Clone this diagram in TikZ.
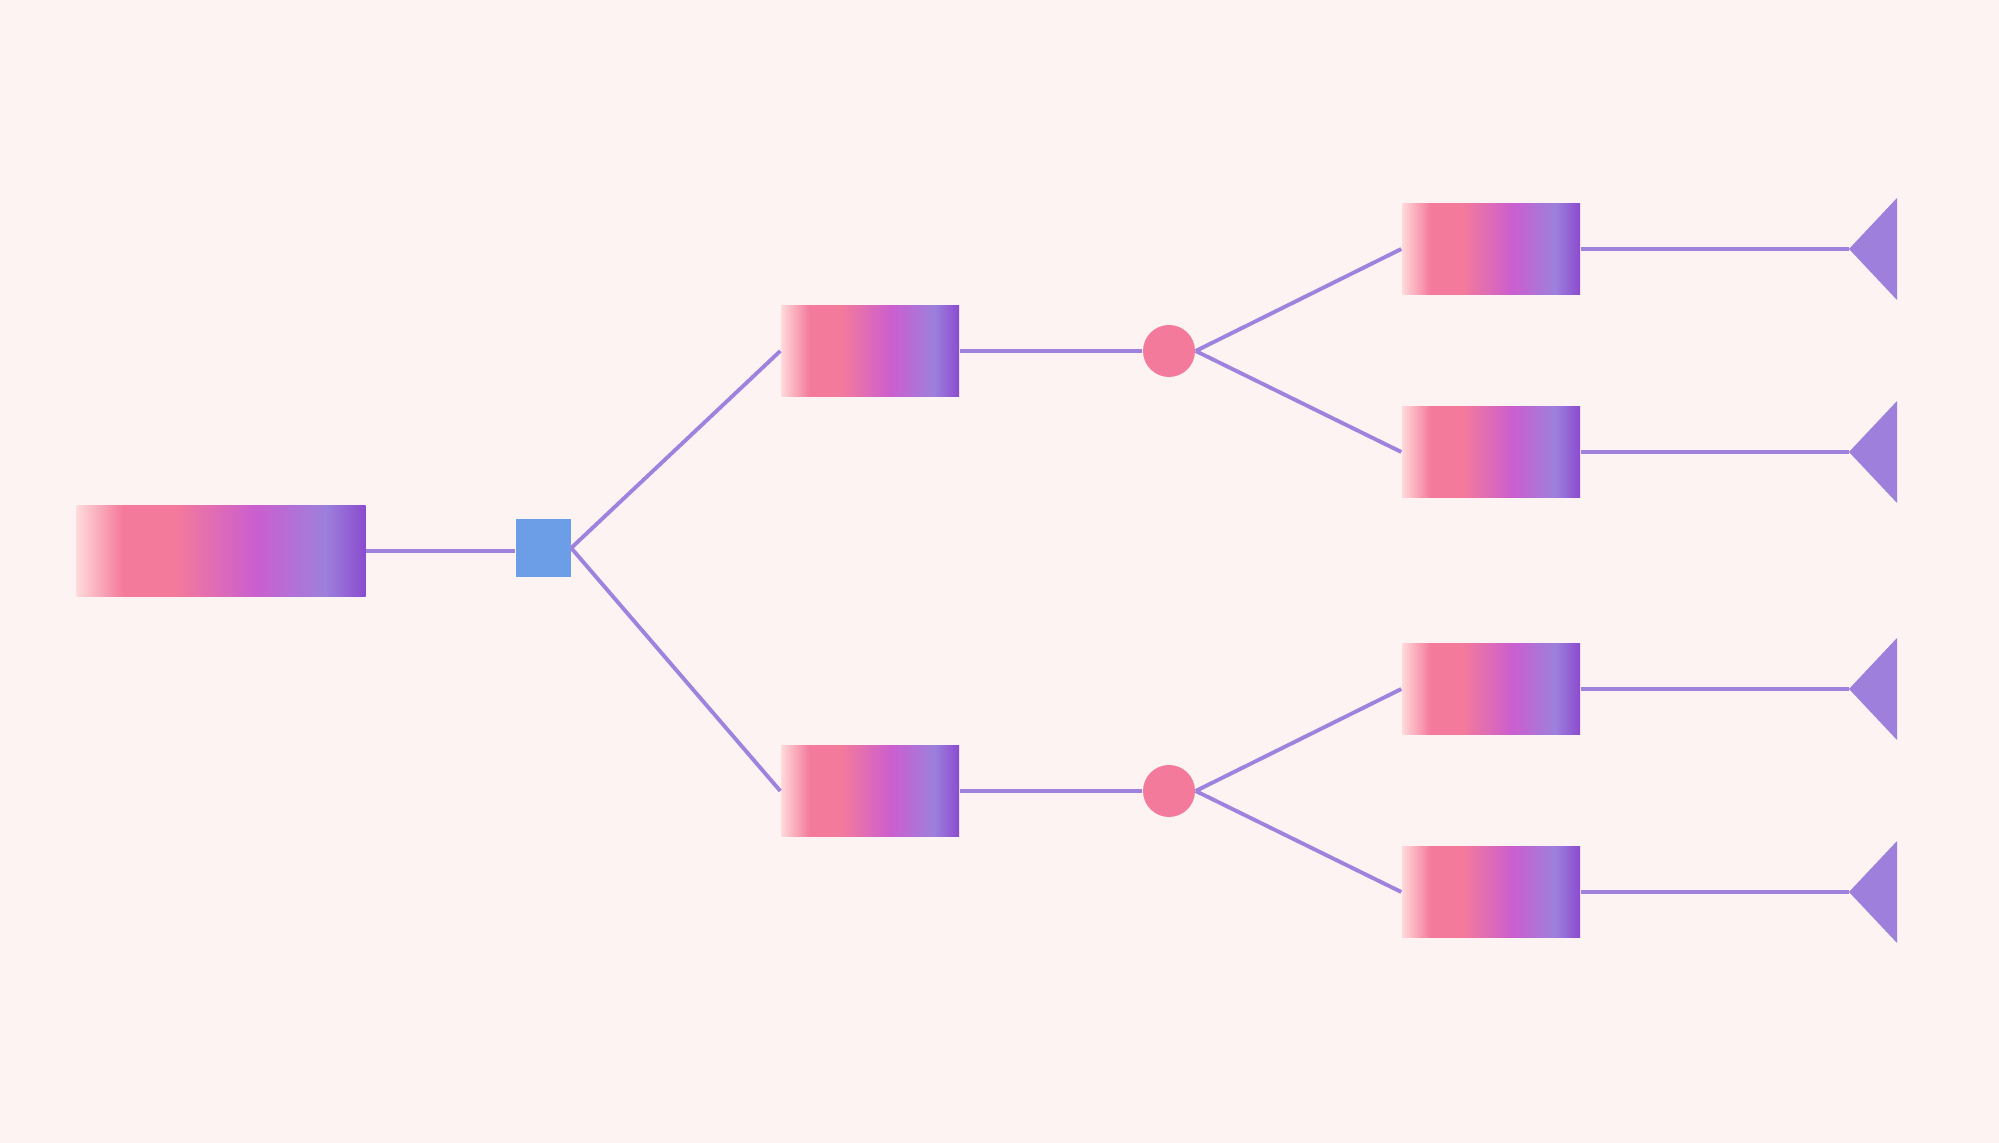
\documentclass[tikz,border=0pt]{standalone}
\usepackage{tikz}
\usetikzlibrary{positioning}

\definecolor{paper}{HTML}{FDF3F2}
\definecolor{wirecol}{HTML}{9F82DE}
\definecolor{fadeA}{HTML}{FFDADA}
\definecolor{rosy}{HTML}{F47A9B}
\definecolor{orchid}{HTML}{CB5ECF}
\definecolor{lilac}{HTML}{9D80DC}
\definecolor{grape}{HTML}{8B4BCF}
\definecolor{hubblue}{HTML}{6C9EE8}
\definecolor{tipcol}{HTML}{9E80DC}

\pgfdeclarehorizontalshading{barfade}{100bp}{color(0bp)=(fadeA); color(25bp)=(fadeA); color(33bp)=(rosy); color(42bp)=(rosy); color(56bp)=(orchid); color(68bp)=(lilac); color(75bp)=(grape); color(100bp)=(grape)}

\tikzset{
  bar/.style={rectangle, shading=barfade, minimum width=1.78cm, minimum height=0.91cm, inner sep=0pt},
  hub/.style={rectangle, fill=hubblue, minimum width=0.55cm, minimum height=0.58cm, inner sep=0pt},
  dot/.style={circle, fill=rosy, minimum size=0.52cm, inner sep=0pt},
  link/.style={draw=wirecol, line width=1.1pt},
  tipfill/.style={fill=tipcol}
}

\begin{document}
\begin{tikzpicture}[node distance=3.22cm]
        \useasboundingbox (0,0) rectangle (19.99,11.43);
        \fill[paper] (0,0) rectangle (19.99,11.43);

        \node[bar, minimum width=2.89cm] (root) at (2.21,5.92) {};
        \node[hub, right of=root, yshift=0.03cm] (split) {};
        \node[bar, right of=split, xshift=0.05cm, yshift=1.97cm] (upper) {};
        \node[bar, right of=split, xshift=0.05cm, yshift=-2.43cm] (lower) {};
        \node[dot, right of=upper, xshift=-0.23cm] (joinA) {};
        \node[dot, right of=lower, xshift=-0.23cm] (joinB) {};
        \node[bar, right of=joinA, yshift=1.02cm] (leafA) {};
        \node[bar, right of=joinA, yshift=-1.01cm] (leafB) {};
        \node[bar, right of=joinB, yshift=1.02cm] (leafC) {};
        \node[bar, right of=joinB, yshift=-1.01cm] (leafD) {};

        % end markers
        \coordinate[right of=leafA, xshift=0.36cm] (tipA);
        \coordinate[right of=leafB, xshift=0.36cm] (tipB);
        \coordinate[right of=leafC, xshift=0.36cm] (tipC);
        \coordinate[right of=leafD, xshift=0.36cm] (tipD);
        \fill[tipfill] (tipA) -- ++(0.48,0.51) -- ++(0,-1.02) -- cycle;
        \fill[tipfill] (tipB) -- ++(0.48,0.51) -- ++(0,-1.02) -- cycle;
        \fill[tipfill] (tipC) -- ++(0.48,0.51) -- ++(0,-1.02) -- cycle;
        \fill[tipfill] (tipD) -- ++(0.48,0.51) -- ++(0,-1.02) -- cycle;

        \draw[link] (root.east) -- (root.east -| split.west);
        \draw[link] (split.east) -- (upper.west);
        \draw[link] (split.east) -- (lower.west);
        \draw[link] (upper) -- (joinA);
        \draw[link] (lower) -- (joinB);
        \draw[link] (joinA.east) -- (leafA.west);
        \draw[link] (joinA.east) -- (leafB.west);
        \draw[link] (joinB.east) -- (leafC.west);
        \draw[link] (joinB.east) -- (leafD.west);
        \draw[link] (leafA) -- (tipA);
        \draw[link] (leafB) -- (tipB);
        \draw[link] (leafC) -- (tipC);
        \draw[link] (leafD) -- (tipD);
\end{tikzpicture}
\end{document}
